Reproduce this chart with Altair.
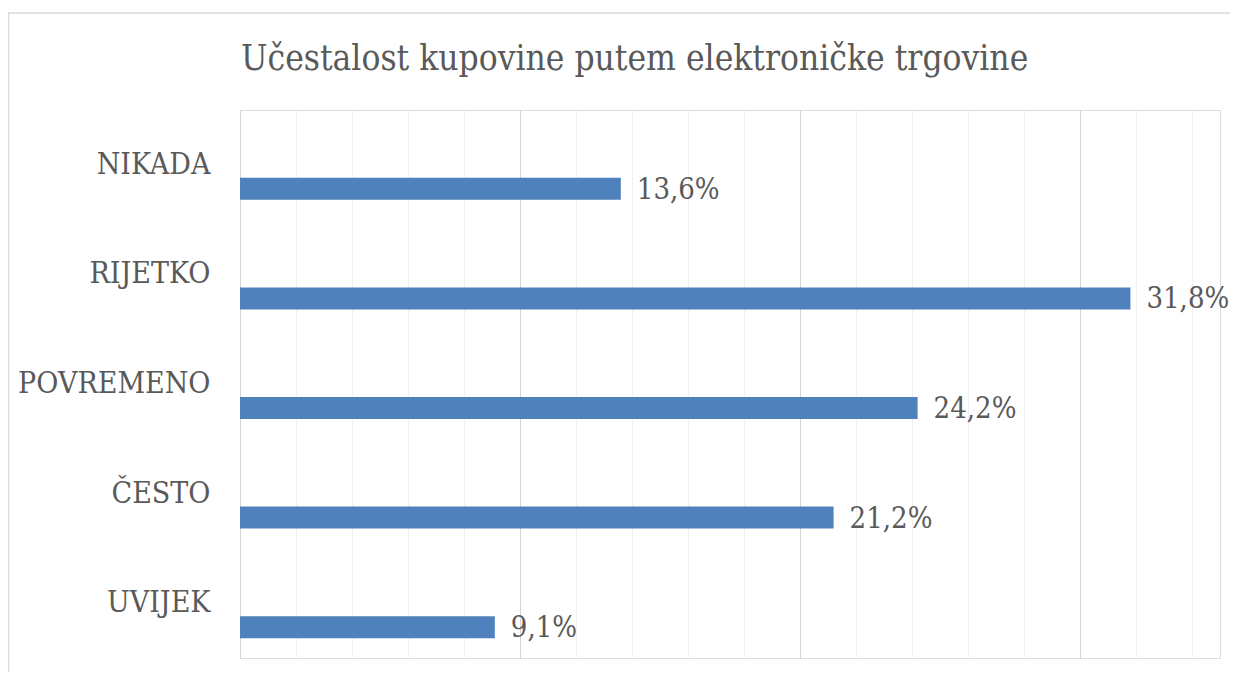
import altair as alt
import pandas as pd

categories = ["NIKADA", "RIJETKO", "POVREMENO", "ČESTO", "UVIJEK"]
values = [13.6, 31.8, 24.2, 21.2, 9.1]
grid_values = list(range(0, 36))
title_text = "Učestalost kupovine putem elektroničke trgovine"

FONT = "DejaVu Serif Condensed"
TXT = "#595959"

df = pd.DataFrame({"cat": categories, "v": values})

base = alt.Chart(df).encode(
    y=alt.Y("cat:N", sort=categories, title=None,
            scale=alt.Scale(paddingInner=0, paddingOuter=0),
            axis=alt.Axis(domain=False, ticks=False, grid=False, labelPadding=30,
                          labelFont=FONT, labelFontSize=30, labelColor=TXT,
                          labelLimit=400, labelBaseline="middle")),
)

bars = base.mark_bar(size=22, yOffset=24, color="#4F81BD").encode(
    x=alt.X("v:Q", title=None,
            scale=alt.Scale(domain=[0, 35], nice=False, zero=True),
            axis=alt.Axis(values=grid_values, labels=False, ticks=False, domain=False,
                          grid=True, gridWidth=1,
                          gridColor={"condition": {"test": "datum.value % 5 === 0", "value": "#d4d4d4"},
                                     "value": "#f0f0f0"})),
)

labels = base.transform_calculate(
    lbl="replace(format(datum.v, '.1f'), '.', ',') + '%'"
).mark_text(align="left", baseline="middle", dx=16, yOffset=25,
            font=FONT, fontSize=29, color=TXT).encode(
    x="v:Q", text="lbl:N"
)

one = pd.DataFrame({"a": [0]})

border = alt.Chart(one).mark_rect(
    fill=None, stroke="#d9d9d9", strokeWidth=1.5
).encode(
    x=alt.value(-231.5), x2=alt.value(1300), y=alt.value(-97), y2=alt.value(800)
)

title = alt.Chart(one).mark_text(
    align="left", baseline="alphabetic", font=FONT, fontSize=35, color=TXT
).encode(
    x=alt.value(1), y=alt.value(-40), text=alt.value(title_text)
)

chart = alt.layer(bars, labels, border, title).properties(
    width=980, height=548,
    autosize=alt.AutoSizeParams(type="none"),
    padding={"left": 232, "top": 102, "right": 10, "bottom": 14},
).configure_view(stroke=None).configure(background="white")

chart.save("out.html", embed_options={"renderer": "svg", "actions": False})
